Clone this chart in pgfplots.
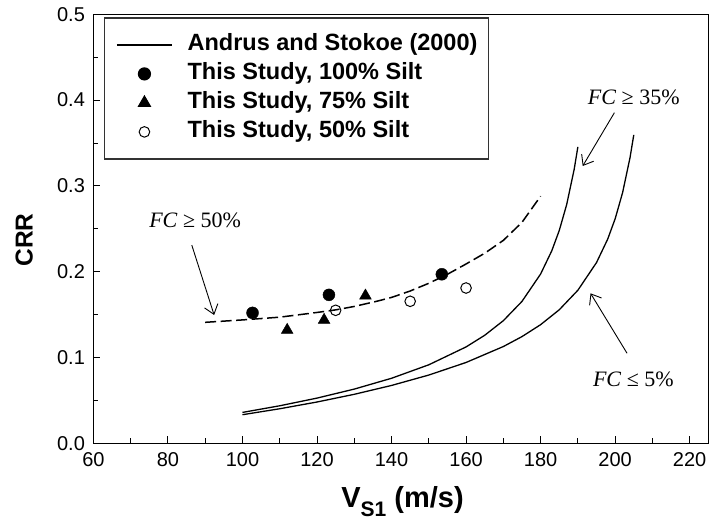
\documentclass[border=0pt]{standalone}
\usepackage{fontspec}
\setmainfont{Liberation Sans}
\newfontfamily\timesfont{Liberation Serif}
\usepackage{pgfplots}
\pgfplotsset{compat=1.18}
\usetikzlibrary{arrows.meta}

\begin{document}
\begin{tikzpicture}
\begin{axis}[
  at={(0,0)}, anchor=south west,
  scale only axis, width=614.9bp, height=429bp,
  xmin=60, xmax=225, ymin=0, ymax=0.5,
  xtick={60,80,100,120,140,160,180,200,220},
  ytick={0,0.1,0.2,0.3,0.4,0.5},
  minor x tick num=1, minor y tick num=1,
  xtick pos=bottom, ytick pos=left,
  tick align=inside,
  major tick length=7bp, minor tick length=5bp,
  every tick/.style={black, line width=1bp},
  axis line style={line width=1.3bp},
  tick label style={font=\fontsize{20bp}{22bp}\selectfont},
  /pgf/number format/assume math mode=true,
  yticklabel style={/pgf/number format/fixed, /pgf/number format/fixed zerofill, /pgf/number format/precision=1, xshift=-5bp},
  xticklabel style={yshift=-5.5bp},
  xlabel={\bfseries V\raisebox{-9bp}{\fontsize{21bp}{21bp}\selectfont S1} (m/s)},
  xlabel style={font=\fontsize{29bp}{31bp}\selectfont, at={(axis description cs:0.5027,-0.150)}, anchor=base},
  ylabel={\bfseries CRR},
  ylabel style={font=\fontsize{24.5bp}{26bp}\selectfont, at={(axis description cs:-0.1125,0.4739)}, anchor=center},
  legend style={at={(0.0177,0.993)}, anchor=north west, draw=black!80, line width=1.2bp,
    font=\fontsize{23.5bp}{26bp}\selectfont\bfseries,
    inner xsep=11.4bp, inner ysep=14.5bp, row sep=4bp, column sep=15bp,
    nodes={inner sep=0bp, text height=18.5bp, text depth=6.5bp}},
  legend cell align=left,
  legend image code/.code={\draw[mark repeat=2,mark phase=2,#1] plot coordinates {(0bp,0bp) (27.5bp,0bp) (55bp,0bp)};},
]
% Andrus and Stokoe (2000), FC <= 5%
\addplot[black, line width=1.3bp] coordinates {
(100,0.03332) (110,0.04026) (120,0.04813) (130,0.05710) (140,0.06743)
(150,0.07955) (160,0.09421) (170,0.11278) (175,0.12436) (180,0.13826)
(185,0.15561) (190,0.17840) (195,0.21063) (198,0.23793) (200,0.26164)
(202,0.29213) (204,0.33307) (205,0.35943)};
\addlegendentry{Andrus and Stokoe (2000)\hspace{6bp}}
% FC >= 35%
\addplot[black, line width=1.3bp, forget plot] coordinates {
(100,0.03600) (110,0.04373) (120,0.05268) (130,0.06318) (140,0.07579)
(150,0.09150) (160,0.11232) (165,0.12590) (170,0.14291) (175,0.16538)
(180,0.19728) (183,0.22439) (185,0.24797) (187,0.27832) (189,0.31914) (190,0.34542)};
% FC >= 50% (dashed)
\addplot[black, line width=1.5bp, dash pattern=on 11bp off 4.5bp, forget plot] coordinates {
(90,0.141) (100,0.1438) (110,0.147) (120,0.1525) (125,0.1555) (130,0.1595)
(136,0.1655) (140,0.170) (145,0.1775) (150,0.1865) (155,0.197) (160,0.209)
(165,0.2215) (170,0.2365) (175,0.2575) (180,0.288)};
\addplot[only marks, mark=*, mark size=6bp, black] coordinates {
(102.7,0.152) (123.2,0.173) (153.5,0.197)};
\addlegendentry{This Study, 100\% Silt}
\addplot[only marks, mark=triangle*, mark size=6.8bp, black] coordinates {
(112.0,0.132) (121.9,0.1437) (133.0,0.172)};
\addlegendentry{This Study, 75\% Silt}
\addplot[only marks, mark=o, mark size=5.3bp, black, mark options={line width=1bp}] coordinates {
(125.0,0.155) (145.0,0.1655) (160.0,0.181)};
\addlegendentry{This Study, 50\% Silt}

\draw[-{Straight Barb[length=9bp,width=14bp]}, line width=0.9bp] (axis cs:86.4,0.231) -- (axis cs:92.4,0.1495);
\draw[-{Straight Barb[length=9bp,width=14bp]}, line width=0.9bp] (axis cs:199.8,0.3853) -- (axis cs:191.3,0.3232);
\draw[-{Straight Barb[length=9bp,width=14bp]}, line width=0.9bp] (axis cs:203.2,0.1049) -- (axis cs:193.4,0.1748);
\node[anchor=base, inner sep=0pt, font=\timesfont\fontsize{22bp}{24bp}\selectfont] at (axis cs:87.3,0.2513) {\textit{FC} ≥ 50\%};
\node[anchor=base, inner sep=0pt, font=\timesfont\fontsize{22bp}{24bp}\selectfont] at (axis cs:205.0,0.3943) {\textit{FC} ≥ 35\%};
\node[anchor=base, inner sep=0pt, font=\timesfont\fontsize{22bp}{24bp}\selectfont] at (axis cs:204.9,0.066) {\textit{FC} ≤ 5\%};
\end{axis}
\pgfresetboundingbox
\path[use as bounding box] (-93.4bp,-83.7bp) rectangle (615.6bp,443.3bp);
\end{tikzpicture}
\end{document}
